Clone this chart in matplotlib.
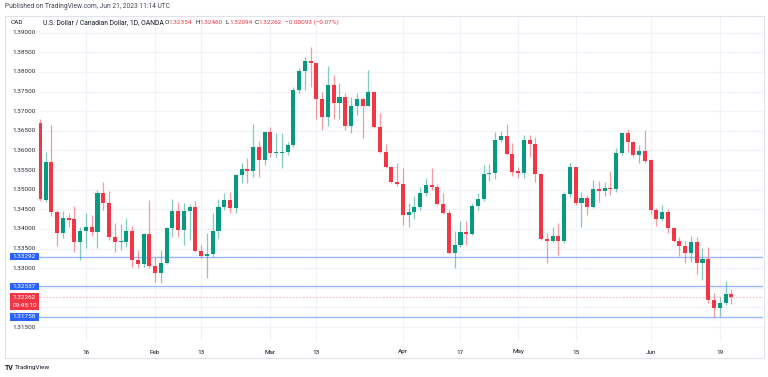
import matplotlib
matplotlib.use("Agg")
import matplotlib.pyplot as plt
import matplotlib.transforms as mtransforms
from matplotlib.patches import Rectangle
import pandas as pd

plt.rcParams['font.family'] = ['Roboto', 'DejaVu Sans']

# daily candles USD/CAD (OANDA), 4 Jan 2023 .. 21 Jun 2023, weekdays only
dates = pd.bdate_range("2023-01-04", "2023-06-21")

opens = [1.3669, 1.3474, 1.3571, 1.3444, 1.3389, 1.3427, 1.3425, 1.3366,
         1.3395, 1.3406, 1.3391, 1.3492, 1.3465, 1.3380, 1.3366, 1.3366, 1.3395, 1.3321,
         1.3310, 1.3387, 1.3306, 1.3289, 1.3314, 1.3402, 1.3446, 1.3397, 1.3446, 1.3455,
         1.3345, 1.3331, 1.3336, 1.3395, 1.3457, 1.3474, 1.3453, 1.3538, 1.3552, 1.3548,
         1.3608, 1.3576, 1.3646, 1.3593, 1.3594, 1.3596, 1.3613, 1.3754, 1.3803, 1.3828,
         1.3824, 1.3730, 1.3686, 1.3767, 1.3722, 1.3735, 1.3662, 1.3713, 1.3730, 1.3713,
         1.3748, 1.3659, 1.3597, 1.3557, 1.3520, 1.3515, 1.3436, 1.3444, 1.3457, 1.3491,
         1.3512, 1.3508, 1.3464, 1.3441, 1.3338, 1.3359, 1.3392, 1.3387, 1.3459, 1.3476,
         1.3540, 1.3542, 1.3627, 1.3638, 1.3591, 1.3548, 1.3543, 1.3627, 1.3616, 1.3540,
         1.3374, 1.3370, 1.3382, 1.3370, 1.3489, 1.3557, 1.3467, 1.3478, 1.3455, 1.3501,
         1.3497, 1.3504, 1.3502, 1.3594, 1.3644, 1.3622, 1.3588, 1.3599, 1.3576, 1.3448,
         1.3425, 1.3444, 1.3402, 1.3370, 1.3357, 1.3340, 1.3366, 1.3313, 1.3323, 1.3219,
         1.3198, 1.3211, 1.32354]
highs = [1.3680, 1.3597, 1.3665, 1.3448, 1.3446, 1.3440, 1.3459, 1.3406,
         1.3440, 1.3436, 1.3499, 1.3520, 1.3497, 1.3416, 1.3412, 1.3429, 1.3408, 1.3346,
         1.3389, 1.3474, 1.3329, 1.3346, 1.3404, 1.3476, 1.3469, 1.3465, 1.3463, 1.3472,
         1.3359, 1.3389, 1.3440, 1.3476, 1.3492, 1.3495, 1.3540, 1.3567, 1.3580, 1.3667,
         1.3625, 1.3648, 1.3659, 1.3644, 1.3644, 1.3622, 1.3762, 1.3809, 1.3837, 1.3864,
         1.3826, 1.3750, 1.3815, 1.3792, 1.3773, 1.3747, 1.3737, 1.3746, 1.3735, 1.3805,
         1.3750, 1.3695, 1.3616, 1.3560, 1.3567, 1.3555, 1.3467, 1.3484, 1.3508, 1.3529,
         1.3555, 1.3515, 1.3491, 1.3448, 1.3396, 1.3419, 1.3419, 1.3465, 1.3492, 1.3563,
         1.3566, 1.3648, 1.3650, 1.3667, 1.3618, 1.3559, 1.3639, 1.3639, 1.3634, 1.3542,
         1.3389, 1.3406, 1.3414, 1.3495, 1.3567, 1.3559, 1.3495, 1.3487, 1.3525, 1.3523,
         1.3520, 1.3548, 1.3606, 1.3645, 1.3654, 1.3625, 1.3614, 1.3652, 1.3578, 1.3453,
         1.3461, 1.3450, 1.3406, 1.3380, 1.3370, 1.3382, 1.3379, 1.3352, 1.3353, 1.3238,
         1.3227, 1.3268, 1.32460]
lows = [1.3472, 1.3469, 1.3433, 1.3357, 1.3376, 1.3406, 1.3342, 1.3321,
        1.3352, 1.3382, 1.3352, 1.3448, 1.3372, 1.3342, 1.3346, 1.3353, 1.3304, 1.3300,
        1.3304, 1.3300, 1.3266, 1.3262, 1.3311, 1.3380, 1.3380, 1.3359, 1.3372, 1.3342,
        1.3325, 1.3274, 1.3329, 1.3376, 1.3448, 1.3441, 1.3441, 1.3518, 1.3516, 1.3532,
        1.3533, 1.3563, 1.3584, 1.3583, 1.3555, 1.3588, 1.3610, 1.3746, 1.3754, 1.3762,
        1.3679, 1.3652, 1.3661, 1.3679, 1.3679, 1.3652, 1.3645, 1.3690, 1.3631, 1.3712,
        1.3656, 1.3594, 1.3555, 1.3516, 1.3509, 1.3410, 1.3406, 1.3425, 1.3448, 1.3484,
        1.3499, 1.3461, 1.3438, 1.3335, 1.3300, 1.3355, 1.3359, 1.3385, 1.3448, 1.3472,
        1.3523, 1.3527, 1.3622, 1.3588, 1.3535, 1.3529, 1.3529, 1.3584, 1.3520, 1.3372,
        1.3314, 1.3368, 1.3334, 1.3363, 1.3481, 1.3461, 1.3404, 1.3436, 1.3453, 1.3469,
        1.3484, 1.3487, 1.3495, 1.3588, 1.3597, 1.3583, 1.3567, 1.3569, 1.3438, 1.3408,
        1.3419, 1.3389, 1.3368, 1.3331, 1.3314, 1.3317, 1.3285, 1.3270, 1.3212, 1.3176,
        1.3178, 1.3206, 1.32094]
closes = [1.3476, 1.3571, 1.3444, 1.3389, 1.3427, 1.3423, 1.3366, 1.3395,
          1.3406, 1.3391, 1.3492, 1.3465, 1.3379, 1.3366, 1.3368, 1.3395, 1.3321, 1.3310,
          1.3387, 1.3306, 1.3289, 1.3314, 1.3402, 1.3446, 1.3397, 1.3446, 1.3455, 1.3345,
          1.3331, 1.3336, 1.3395, 1.3457, 1.3474, 1.3453, 1.3538, 1.3552, 1.3548, 1.3608,
          1.3576, 1.3646, 1.3593, 1.3595, 1.3596, 1.3613, 1.3754, 1.3803, 1.3828, 1.3824,
          1.3730, 1.3686, 1.3767, 1.3722, 1.3735, 1.3662, 1.3713, 1.3730, 1.3713, 1.3748,
          1.3659, 1.3597, 1.3557, 1.3520, 1.3515, 1.3436, 1.3444, 1.3457, 1.3491, 1.3512,
          1.3508, 1.3464, 1.3441, 1.3338, 1.3359, 1.3392, 1.3387, 1.3459, 1.3476, 1.3540,
          1.3542, 1.3627, 1.3638, 1.3591, 1.3546, 1.3543, 1.3627, 1.3616, 1.3540, 1.3374,
          1.3370, 1.3382, 1.3370, 1.3489, 1.3557, 1.3467, 1.3478, 1.3455, 1.3501, 1.3497,
          1.3504, 1.3502, 1.3594, 1.3644, 1.3622, 1.3588, 1.3599, 1.3574, 1.3448, 1.3425,
          1.3444, 1.3402, 1.3370, 1.3357, 1.3340, 1.3366, 1.3313, 1.3323, 1.3219, 1.3198,
          1.3211, 1.3234, 1.32262]

price_ticks = [1.315, 1.320, 1.325, 1.330, 1.335, 1.340, 1.345, 1.350, 1.355,
               1.360, 1.365, 1.370, 1.375, 1.380, 1.385, 1.390]
tick_dates = ["2023-01-16", "2023-02-01", "2023-02-13", "2023-03-01", "2023-03-13",
              "2023-04-03", "2023-04-17", "2023-05-01", "2023-05-15", "2023-06-01",
              "2023-06-19"]
tick_names = ["16", "Feb", "13", "Mar", "13", "Apr", "17", "May", "15", "Jun", "19"]
levels = [1.33292, 1.32537, 1.31758]
last_price = 1.32262
countdown = "09:45:10"

GREEN = "#089981"
RED = "#F23645"
BLUE = "#2962FF"
TXT = "#131722"
FS = 4.6

W, H = 768, 377
fig = plt.figure(figsize=(W / 100, H / 100), dpi=100)
fig.patch.set_facecolor("white")


def fx(p):
    return p / W


def fy(p):
    return 1 - p / H


# chart pane
ax = fig.add_axes([fx(39), fy(342), fx(763) - fx(39), fy(16) - fy(342)])
ax.set_xlim(-8.15, 117.5)
ax.set_ylim(1.3112, 1.39425)
for s in ax.spines.values():
    s.set_visible(False)
ax.set_xticks([])
ax.set_yticks([])

# x position of candles = bar number, Jan 16 = 0
start = list(dates).index(pd.Timestamp("2023-01-16"))
xs = [i - start for i in range(len(dates))]
tick_x = [list(dates).index(pd.Timestamp(d)) - start for d in tick_dates]

for v in price_ticks:
    ax.axhline(v, color="#f0f3fa", lw=0.8, zorder=0)
for t in tick_x:
    ax.axvline(t, color="#f0f3fa", lw=0.8, zorder=0)

for x, o, h, l, c in zip(xs, opens, highs, lows, closes):
    col = GREEN if c >= o else RED
    ax.vlines(x, l, h, color=col, lw=0.9, alpha=0.5, zorder=2)
    ax.bar(x, max(abs(c - o), 0.0003), bottom=min(o, c), width=0.7,
           color=col, lw=0, zorder=3)

for lv in levels:
    ax.axhline(lv, color=BLUE, lw=1.0, alpha=0.45, zorder=1)
ax.axhline(last_price, color=RED, lw=0.6, alpha=0.45, ls=(0, (2, 2)), zorder=1)

# price scale on the left (labels hidden under the coloured boxes are skipped)
ytr = mtransforms.blended_transform_factory(fig.transFigure, ax.transData)
top = 1.39 - (293 - 32.7) / 3925
bot = 1.39 - (309.5 - 32.7) / 3925
box_h = 7.4 / 3925
for v in price_ticks:
    covered = any(abs(v - lv) < box_h for lv in levels) or (bot - box_h / 2 < v < top + box_h / 2)
    if covered:
        continue
    fig.text(fx(24.5), v, f"{v:.5f}", transform=ytr, ha="center", va="center",
             fontsize=FS, color="#2a2e39")

for lv in levels:
    fig.add_artist(Rectangle((fx(10), lv - box_h / 2), fx(29), box_h, transform=ytr,
                             facecolor=BLUE, edgecolor="none", zorder=5))
    fig.text(fx(24.5), lv, f"{lv:.5f}", transform=ytr, ha="center", va="center",
             fontsize=FS, color="white", zorder=6)

fig.add_artist(Rectangle((fx(10), bot), fx(29), top - bot, transform=ytr,
                         facecolor=RED, edgecolor="none", zorder=5))
fig.text(fx(24.5), last_price, f"{last_price:.5f}", transform=ytr, ha="center",
         va="center", fontsize=FS, color="white", zorder=6)
fig.text(fx(24.5), 1.39 - (305 - 32.7) / 3925, countdown, transform=ytr, ha="center",
         va="center", fontsize=FS, color="white", zorder=6)

# time scale
xtr = mtransforms.blended_transform_factory(ax.transData, fig.transFigure)
for t, name in zip(tick_x, tick_names):
    fig.text(t, fy(352), name, transform=xtr, ha="center", va="center",
             fontsize=FS, color=TXT)

# frame
fig.add_artist(Rectangle((fx(5), fy(358)), fx(764) - fx(5), fy(16) - fy(358),
                         transform=fig.transFigure, fill=False, ec="#e0e3eb", lw=0.8))

# header / legend
fig.text(fx(5), fy(7), "Published on TradingView.com, Jun 21, 2023 11:14 UTC",
         fontsize=4.8, color="#434651", va="center")
fig.text(fx(11), fy(22.5), "CAD", fontsize=FS, color=TXT, va="center")
fig.text(fx(43), fy(22.5), "U.S. Dollar / Canadian Dollar, 1D, OANDA",
         fontsize=4.9, color=TXT, va="center")
parts = [(164.5, "O", TXT), (168, "1.32354", RED), (195, "H", TXT), (199, "1.32460", RED),
         (226, "L", TXT), (229.5, "1.32094", RED), (255, "C", TXT), (258.5, "1.32262", RED),
         (285, "\u22120.00093 (\u22120.07%)", RED)]
for px, s, col in parts:
    fig.text(fx(px), fy(22.5), s, fontsize=FS, color=col, va="center")

# logo
fig.text(fx(5), fy(368), "TV", fontsize=5, color=TXT, va="center", fontweight="bold")
fig.text(fx(15), fy(368), "TradingView", fontsize=FS, color=TXT, va="center")

fig.savefig("out.png", dpi=100, facecolor="white")
